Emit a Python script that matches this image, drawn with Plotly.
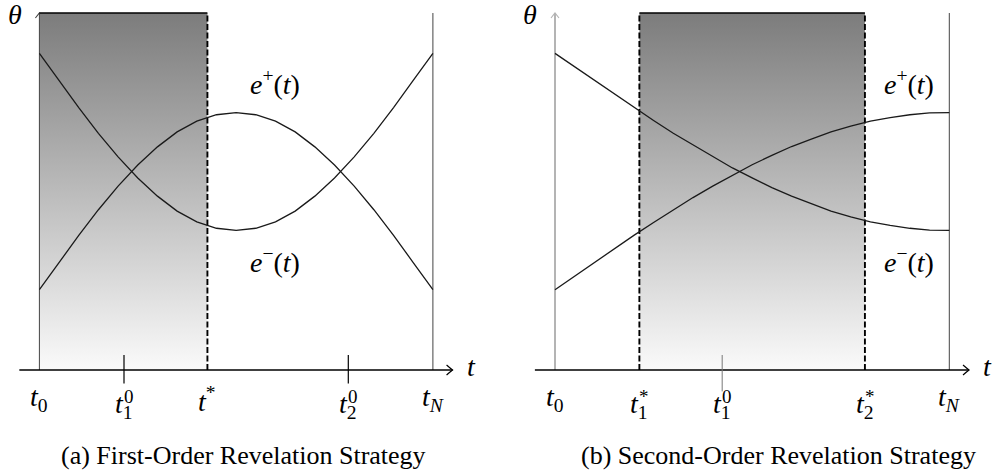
import plotly.graph_objects as go

# ---------------------------------------------------------------- data
# common time grid, t0 = 0 ... tN = 10
t = [0, 0.5, 1, 1.5, 2, 2.5, 3, 3.5, 4, 4.5, 5, 5.5, 6, 6.5, 7, 7.5, 8, 8.5, 9, 9.5, 10]

# (a) first-order revelation
e_plus_a = [2.25, 3.01, 3.77, 4.49, 5.15, 5.74, 6.25, 6.67, 6.97, 7.15, 7.21,
            7.15, 6.97, 6.67, 6.25, 5.74, 5.15, 4.49, 3.77, 3.01, 2.25]
e_minus_a = [8.87, 8.11, 7.35, 6.63, 5.97, 5.38, 4.87, 4.45, 4.15, 3.97, 3.91,
             3.97, 4.15, 4.45, 4.87, 5.38, 5.97, 6.63, 7.35, 8.11, 8.87]

# (b) second-order revelation
e_plus_b = [2.25, 2.63, 3.02, 3.39, 3.77, 4.13, 4.49, 4.83, 5.15, 5.46, 5.75,
            6.01, 6.26, 6.47, 6.67, 6.83, 6.97, 7.07, 7.15, 7.20, 7.21]
e_minus_b = [8.87, 8.49, 8.11, 7.73, 7.35, 6.99, 6.63, 6.30, 5.97, 5.66, 5.38,
             5.11, 4.87, 4.65, 4.45, 4.29, 4.15, 4.05, 3.97, 3.92, 3.91]

T0, TN = 0, 10
THETA_TOP = 10

# tick positions and label parts (superscript, subscript of "t")
ticks_a = [0, 2.15, 4.27, 7.85, 10]
ticks_a_sup = ["", "0", "*", "0", ""]
ticks_a_sub = ["0", "1", "", "2", "N"]
marks_a = [2.15, 7.85]          # tick marks drawn across the t-axis

ticks_b = [0, 2.14, 4.24, 7.86, 10]
ticks_b_sup = ["", "*", "0", "*", ""]
ticks_b_sub = ["0", "1", "1", "2", "N"]
marks_b = [4.24]

band_a = [0, 4.27]              # [t0, t*]
band_b = [2.14, 7.86]           # [t1*, t2*]

captions = ["(a) First-Order Revelation Strategy",
            "(b) Second-Order Revelation Strategy"]

# ---------------------------------------------------------------- style
SERIF = "Liberation Serif, DejaVu Serif, serif"
MATH = 28
SCRIPT = 19
CURVE = "#1a1a1a"

fig = go.Figure()
shapes = []
annotations = []


def line(xs, ys, xa, color="black", width=1.2, dash=None):
    fig.add_trace(go.Scatter(x=xs, y=ys, xaxis=xa, yaxis="y", mode="lines",
                             line=dict(color=color, width=width, dash=dash),
                             hoverinfo="skip", showlegend=False))


def arrow(xa, x, y, path, color="black", width=1.2, layer="above"):
    shapes.append(dict(type="path", xref=xa, yref="y", xsizemode="pixel",
                       ysizemode="pixel", xanchor=x, yanchor=y, path=path,
                       line=dict(color=color, width=width), layer=layer))


def text(xa, x, y, s, size=MATH, xshift=0, yshift=0, xanchor="center"):
    annotations.append(dict(xref=xa, yref="y", x=x, y=y, text=s, showarrow=False,
                            xanchor=xanchor, yanchor="middle", xshift=xshift,
                            yshift=yshift, borderpad=0,
                            font=dict(family=SERIF, size=size, color="black")))


def tick_label(xa, x, sup, sub):
    if sub and sup:
        # subscript with a superscript stacked above it
        s = "<i>N</i>" if sub == "N" else sub
        text(xa, x, -0.99, "<i>t</i><sub>%s</sub>" % s)
        text(xa, x, -0.99, sup, size=SCRIPT, xshift=-1, yshift=9, xanchor="left")
    elif sub:
        s = "<i>N</i>" if sub == "N" else sub
        text(xa, x, -0.80, "<i>t</i><sub>%s</sub>" % s)
    else:
        text(xa, x, -0.82, "<i>t</i><sup>%s</sup>" % sup)


def panel(xa, band, ep, em, ticks, sups, subs, marks, yaxis_color, yaxis_width,
          mark_color, mark_low, dashed_left):
    a, b = band
    # shaded band with vertical grey-to-white gradient
    fig.add_trace(go.Scatter(
        x=[a, b, b, a, a], y=[0, 0, THETA_TOP, THETA_TOP, 0], xaxis=xa, yaxis="y",
        fill="toself", mode="lines", line=dict(width=0, color="rgba(0,0,0,0)"),
        fillgradient=dict(type="vertical",
                          colorscale=[[0, "rgb(250,250,250)"], [1, "rgb(124,124,124)"]]),
        hoverinfo="skip", showlegend=False))
    # theta axis and t_N line
    line([T0, T0], [0, THETA_TOP], xa, color=yaxis_color, width=yaxis_width)
    line([TN, TN], [0, THETA_TOP], xa, color="#444444", width=1)
    # band outline
    line([a, b], [THETA_TOP, THETA_TOP], xa, color="black", width=1.6)
    line([b, b], [0, THETA_TOP], xa, color="black", width=1.9, dash="6px,2.5px")
    if dashed_left:
        line([a, a], [0, THETA_TOP], xa, color="black", width=1.9, dash="6px,2.5px")
    # t axis
    line([-0.51, 10.5], [0, 0], xa, color="black", width=1.3)
    for m in marks:
        line([m, m], [0.42, mark_low], xa, color=mark_color,
             width=1.2 if mark_color == "black" else 1)
    # curves
    line(t, ep, xa, color=CURVE, width=1.3)
    line(t, em, xa, color=CURVE, width=1.3)
    # arrowheads
    arrow(xa, 10.5, 0, "M -6,5 Q -2,1.5 0,0 Q -2,-1.5 -6,-5")
    arrow(xa, T0, THETA_TOP, "M -4,-5 Q -1.2,-1.5 0,0 Q 1.2,-1.5 4,-5",
          color=yaxis_color, width=1.1, layer="below" if not dashed_left else "above")
    # axis names
    text(xa, -0.63, 9.97, "<i>θ</i>")
    text(xa, 10.97, 0.11, "<i>t</i>")
    for x, su, sb in zip(ticks, sups, subs):
        tick_label(xa, x, su, sb)


panel("x", band_a, e_plus_a, e_minus_a, ticks_a, ticks_a_sup, ticks_a_sub,
      marks_a, "#444444", 1, "black", -0.38, False)
panel("x2", band_b, e_plus_b, e_minus_b, ticks_b, ticks_b_sup, ticks_b_sub,
      marks_b, "#b4b4b4", 2, "#777777", -0.6, True)

text("x", 5.99, 8.05, "<i>e</i><sup>+</sup>(<i>t</i>)")
text("x", 5.99, 3.08, "<i>e</i><sup>−</sup>(<i>t</i>)")
text("x2", 8.98, 8.05, "<i>e</i><sup>+</sup>(<i>t</i>)")
text("x2", 8.98, 3.06, "<i>e</i><sup>−</sup>(<i>t</i>)")

for cx, cap in zip([0.2442, 0.7808], captions):
    annotations.append(dict(xref="paper", yref="paper", x=cx, y=0.038, text=cap,
                            showarrow=False, xanchor="center", yanchor="middle",
                            font=dict(family=SERIF, size=26, color="black")))

fig.update_layout(
    width=997, height=473, margin=dict(l=0, r=0, t=0, b=0, pad=0),
    paper_bgcolor="white", plot_bgcolor="white", showlegend=False,
    xaxis=dict(domain=[0, 0.5], range=[-1.00127, 11.6671], visible=False,
               anchor="y", fixedrange=True),
    xaxis2=dict(domain=[0.5, 1], range=[-1.43292, 11.2097], visible=False,
                anchor="y", fixedrange=True),
    yaxis=dict(domain=[0, 1], range=[-2.8852, 10.3641], visible=False,
               fixedrange=True),
    shapes=shapes, annotations=annotations,
)

fig.write_html("out.html")
